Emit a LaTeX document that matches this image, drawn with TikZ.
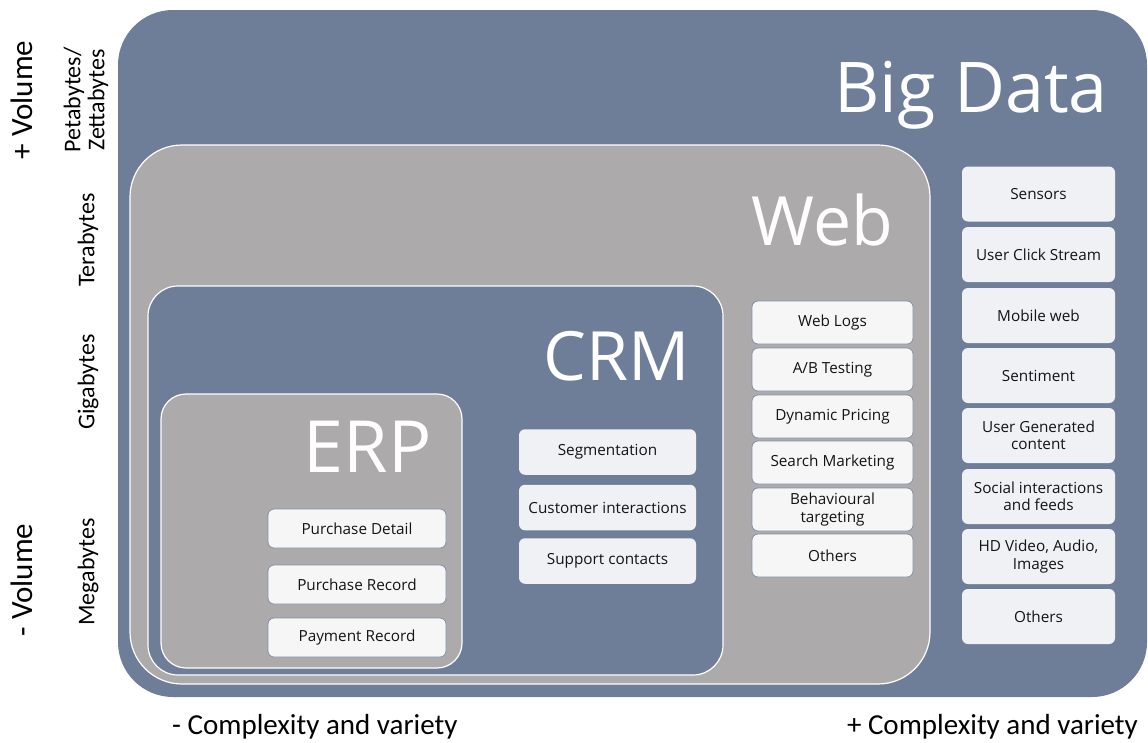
\documentclass[tikz,border=0pt]{standalone}
\usepackage{fontspec}
\setmainfont{Carlito}
\newfontfamily\titlefont{Open Sans}
\newfontfamily\itemfont{Open Sans}
\definecolor{slate}{RGB}{110,126,153}
\definecolor{stone}{RGB}{172,170,171}
\definecolor{itemfill}{RGB}{240,241,245}
\definecolor{itemfillb}{RGB}{246,246,247}
\definecolor{itemline}{RGB}{128,144,170}
\tikzset{
  layer/.style={anchor=north west, inner sep=0pt, outer sep=0pt},
  rim/.style={draw=white, line width=1.2pt},
  title/.style={anchor=base east, text=white, inner sep=0pt,
                font=\titlefont\fontsize{68}{68}\selectfont},
  item/.style={rounded corners=6pt, fill=itemfill, inner sep=0pt,
               align=center, text=black!92,
               font=\itemfont\fontsize{15.3}{17.5}\selectfont},
  itemb/.style={item, fill=itemfillb, draw=itemline, line width=0.8pt},
  axis/.style={inner sep=0pt, text=black, font=\fontsize{29}{30}\selectfont},
  sizelabel/.style={inner sep=0pt, rotate=90, align=center, text=black,
                font=\fontsize{24}{24}\selectfont},
}
\begin{document}
\begin{tikzpicture}[x=1pt, y=-1pt]
\useasboundingbox (0,0) rectangle (1148,742);

% nested data layers
\node[layer, fill=slate, rounded corners=55pt, minimum width=1029pt, minimum height=687pt] (bigdata) at (118,10) {};
\node[layer, rim, fill=stone, rounded corners=52pt, minimum width=800pt, minimum height=539pt] (web) at (130,145) {};
\node[layer, rim, fill=slate, rounded corners=30pt, minimum width=575pt, minimum height=389pt] (crm) at (148,286) {};
\node[layer, rim, fill=stone, rounded corners=25pt, minimum width=301pt, minimum height=274pt] (erp) at (161,394) {};

% layer titles
\node[title, font=\titlefont\fontsize{70}{70}\selectfont] (tbig) at (1108,112) {Big Data};
\node[title] (tweb) at (893,245) {Web};
\node[title] (tcrm) at (690,380) {CRM};
\node[title, font=\titlefont\fontsize{72}{72}\selectfont] (terp) at (432,472) {ERP};

% ERP sources
\begin{scope}[every node/.style={itemb, minimum width=178pt, minimum height=39pt}]
\node (e1) at (357,528.5) {Purchase Detail};
\node (e2) at (357,584.5) {Purchase Record};
\node (e3) at (357,637.5) {Payment Record};
\end{scope}

% CRM sources
\begin{scope}[every node/.style={item, minimum width=177pt, minimum height=45.5pt}]
\node (c1) at (607.5,452) {Segmentation};
\node (c2) at (607.5,507.5) {Customer interactions};
\node (c3) at (607.5,561) {Support contacts};
\end{scope}

% Web sources
\begin{scope}[every node/.style={itemb, minimum width=161pt, minimum height=43pt}]
\node (w1) at (832.5,322.5) {Web Logs};
\node (w2) at (832.5,369.5) {A/B Testing};
\node (w3) at (832.5,416.5) {Dynamic Pricing};
\node (w4) at (832.5,462.5) {Search Marketing};
\node (w5) at (832.5,509.5) {Behavioural\\targeting};
\node (w6) at (832.5,555.5) {Others};
\end{scope}

% Big Data sources
\begin{scope}[every node/.style={item, minimum width=153pt, minimum height=55pt}]
\node (b1) at (1038.5,194) {Sensors};
\node (b2) at (1038.5,254.5) {User Click Stream};
\node (b3) at (1038.5,315.5) {Mobile web};
\node (b4) at (1038.5,375.5) {Sentiment};
\node (b5) at (1038.5,435.5) {User Generated\\content};
\node (b6) at (1038.5,496.5) {Social interactions\\and feeds};
\node (b7) at (1038.5,556.5) {HD Video, Audio,\\Images};
\node (b8) at (1038.5,616.5) {Others};
\end{scope}

% volume axis
\node[axis, rotate=90, font=\fontsize{31}{32}\selectfont] (vplus) at (22,100) {+ Volume};
\node[axis, rotate=90, font=\fontsize{31}{32}\selectfont] (vminus) at (22,580) {- Volume};
\node[sizelabel] (pz) at (86,100) {Petabytes/\\Zettabytes};
\node[sizelabel] (tb) at (88,240) {Terabytes};
\node[sizelabel] (gb) at (88,382) {Gigabytes};
\node[sizelabel] (mb) at (88,572) {Megabytes};

% complexity axis
\node[axis, anchor=base west] (cminus) at (172,734) {- Complexity and variety};
\node[axis, anchor=base east] (cplus) at (1138,734) {+ Complexity and variety};
\end{tikzpicture}
\end{document}
